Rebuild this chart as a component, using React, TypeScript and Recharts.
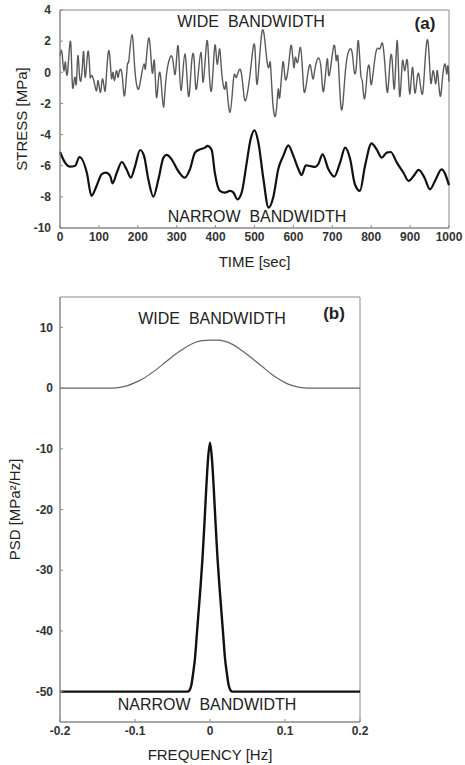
import { LineChart, Line, XAxis, YAxis, ReferenceArea } from 'recharts';

// panel (a): stress time histories
const timeWide = [
  0, 5, 10, 14, 19, 27, 32, 38, 42, 46, 51, 57, 61, 65, 72, 77, 80, 87, 94, 98,
  104, 109, 115, 119, 126, 132, 136, 140, 145, 149, 153, 160, 166, 173, 177, 185, 192, 200, 207, 216,
  220, 228, 235, 239, 243, 248, 254, 260, 266, 272, 283, 291, 297, 304, 311, 321, 330, 338, 345, 351,
  362, 368, 377, 383, 390, 398, 404, 410, 416, 424, 428, 437, 446, 452, 458, 465, 471, 477, 486, 493,
  501, 507, 519, 530, 537, 541, 547, 555, 561, 565, 573, 579, 588, 595, 601, 605, 611, 618, 624, 629,
  637, 644, 650, 656, 665, 672, 678, 687, 692, 704, 710, 715, 723, 732, 740, 750, 756, 762, 767, 773,
  777, 783, 790, 796, 801, 812, 822, 829, 836, 842, 848, 854, 860, 867, 873, 880, 886, 893, 899, 906,
  912, 919, 925, 932, 938, 946, 953, 959, 966, 970, 977, 983, 990, 994, 997, 1000,
];
const stressWide = [
  1.07, 1.28, 0.1, 0.64, -0.11, 1.99, -0.86, -0.32, -0.75, 1.07, -0.43, 0.21, 1.28, -0.32, 1.35, -0.11, -0.22, -0.54, -1.18, -0.54,
  -1.29, -0.43, -1.18, -0.32, 1.39, -0.32, 0.0, -0.54, 0.1, -0.32, 0.1, -0.22, -1.5, 0.43, 0.75, 2.42, 0.32, -1.07, -0.54, 0.53,
  0.32, 2.2, 0.53, 0.1, 0.64, -1.6, -0.22, -0.64, -2.25, -0.54, 0.96, 0.64, 0.0, 1.65, -1.18, 1.18, -1.5, 0.53, 0.75, -1.07,
  1.28, -0.64, 1.93, 0.32, -1.07, 1.71, 0.53, 1.5, -0.11, -1.07, -0.75, -2.57, -0.43, -0.32, 0.0, 0.1, -1.07, -1.82, -0.64, 0.86,
  1.6, -0.75, 2.57, 1.18, 0.32, 0.53, -1.93, -2.68, -1.07, -1.6, 0.64, -0.43, 0.53, 1.71, 0.32, 0.96, 0.64, 1.6, -0.11, -1.29,
  -0.11, 0.43, -0.43, 0.32, 0.92, 0.0, -1.18, 0.86, -0.22, 1.71, 0.75, 0.86, -2.36, -0.43, 1.18, 1.39, 0.1, 0.43, 2.03, -0.11,
  -0.54, -1.71, 0.0, 0.21, -0.75, 1.28, 1.5, 1.86, 0.21, -1.29, 0.53, 0.75, -0.97, 2.03, -1.5, 0.64, 0.1, 0.75, -1.39, 0.32,
  -1.29, -0.22, -0.54, -1.39, 0.53, 1.99, -0.64, 0.1, -0.75, 0.1, -1.5, -0.43, 0.53, -0.11, 0.43, -0.6,
];

const timeNarrow = [
  0, 13, 26, 39, 50, 69, 81, 94, 107, 118, 129, 135, 146, 159, 171, 182, 193, 206, 216, 227,
  240, 253, 266, 274, 287, 304, 321, 334, 347, 360, 373, 379, 390, 398, 411, 424, 437, 446, 456, 467,
  480, 490, 500, 510, 523, 536, 549, 561, 574, 587, 600, 613, 621, 632, 643, 656, 664, 675, 690, 705,
  720, 733, 746, 758, 771, 784, 801, 814, 827, 840, 850, 866, 883, 896, 909, 922, 937, 951, 964, 981,
  1000,
];
const stressNarrow = [
  -5.12, -5.8, -6.06, -6.0, -5.44, -6.45, -7.94, -7.3, -6.55, -6.45, -6.66, -7.13, -6.45, -5.76, -6.23, -6.77, -6.02, -4.99, -5.37, -6.87,
  -7.99, -6.87, -5.48, -5.31, -5.59, -6.34, -6.77, -6.23, -5.16, -4.95, -4.84, -4.73, -4.99, -6.45, -7.62, -7.73, -7.62, -7.73, -8.16, -7.73,
  -5.8, -4.3, -3.73, -4.52, -6.87, -8.69, -7.94, -6.23, -5.37, -4.69, -5.37, -6.23, -6.6, -5.97, -6.02, -6.08, -5.9, -5.27, -6.23, -6.7,
  -5.8, -4.84, -5.59, -7.19, -7.62, -6.02, -4.56, -4.95, -5.48, -5.16, -5.12, -5.8, -6.45, -6.98, -6.66, -6.27, -6.77, -7.52, -6.98, -6.23,
  -7.25,
];

// panel (b): power spectral densities
const freqWide = [
  -0.2, -0.15, -0.13, -0.12, -0.11, -0.1, -0.09, -0.08, -0.07, -0.06, -0.05, -0.04, -0.03, -0.02, -0.01, 0,
  0.01, 0.02, 0.03, 0.04, 0.05, 0.06, 0.07, 0.08, 0.09, 0.1, 0.11, 0.12, 0.13, 0.15, 0.2,
];
const psdWide = [
  0, 0, 0, 0.1, 0.4, 0.9, 1.5, 2.3, 3.2, 4.2, 5.2, 6.1, 6.9, 7.5, 7.8, 7.9,
  7.9, 7.7, 7.2, 6.4, 5.5, 4.5, 3.5, 2.5, 1.6, 0.9, 0.4, 0.1, 0, 0, 0,
];

const freqNarrow = [
  -0.2, -0.03, -0.0275, -0.025, -0.0225, -0.02, -0.0175, -0.015, -0.0125, -0.01, -0.0075, -0.005, -0.0025, 0,
  0.0025, 0.005, 0.0075, 0.01, 0.0125, 0.015, 0.0175, 0.02, 0.0225, 0.025, 0.0275, 0.03, 0.2,
];
const psdNarrow = [
  -50, -50, -49.8, -49, -47, -44.5, -40.5, -36.5, -32.5, -28, -22.5, -16.5, -11.5, -9,
  -11.5, -16.5, -22.5, -28, -32.5, -36.5, -40.5, -44.5, -47, -49, -49.8, -50, -50,
];

const timeTicks = [0, 100, 200, 300, 400, 500, 600, 700, 800, 900, 1000];
const stressTicks = [-10, -8, -6, -4, -2, 0, 2, 4];
const freqTicks = [-0.2, -0.1, 0, 0.1, 0.2];
const psdTicks = [-50, -40, -30, -20, -10, 0, 10];

const wideData = timeWide.map((t, i) => ({ t, v: stressWide[i] }));
const narrowData = timeNarrow.map((t, i) => ({ t, v: stressNarrow[i] }));
const psdWideData = freqWide.map((f, i) => ({ f, v: psdWide[i] }));
const psdNarrowData = freqNarrow.map((f, i) => ({ f, v: psdNarrow[i] }));

const FONT = 'Arial, "Liberation Sans", Helvetica, sans-serif';
const tickStyle = { fontSize: 12, fontWeight: 700, fill: '#333', fontFamily: FONT };
const titleStyle = { fontSize: 15, fontWeight: 400, fill: '#222', fontFamily: FONT };
const FRAME = '#8a8a8a';

export default function App() {
  return (
    <div style={{ position: 'absolute', left: 0, top: 0, width: 465, height: 765, background: '#fff' }}>
      {/* (a) stress */}
      <div style={{ position: 'absolute', left: 0, top: 0 }}>
        <LineChart width={465} height={290} margin={{ top: 10, right: 16, bottom: 22, left: 10 }}>
          <XAxis
            dataKey="t"
            type="number"
            domain={[0, 1000]}
            ticks={timeTicks}
            stroke={FRAME}
            tickSize={-3}
            tickMargin={7}
            tick={tickStyle}
            height={40}
            allowDuplicatedCategory={false}
            label={{ value: 'TIME [sec]', position: 'insideBottom', offset: 1, style: titleStyle }}
          />
          <YAxis
            type="number"
            domain={[-10, 4]}
            ticks={stressTicks}
            stroke={FRAME}
            tickSize={-3}
            tickMargin={12}
            tick={tickStyle}
            width={50}
            label={{ value: 'STRESS [MPa]', angle: -90, position: 'insideLeft', offset: 12, style: { ...titleStyle, textAnchor: 'middle' } }}
          />
          <ReferenceArea x1={0} x2={1000} y1={-10} y2={4} fill="none" stroke={FRAME} strokeWidth={1} />
          <Line data={wideData} dataKey="v" type="natural" stroke="#5a5a5a" strokeWidth={1.4} dot={false} isAnimationActive={false} />
          <Line data={narrowData} dataKey="v" type="monotone" stroke="#111" strokeWidth={2.2} dot={false} isAnimationActive={false} />
        </LineChart>
      </div>

      {/* (b) PSD */}
      <div style={{ position: 'absolute', left: 0, top: 287 }}>
        <LineChart width={465} height={478} margin={{ top: 10, right: 105, bottom: 5, left: 5 }}>
          <XAxis
            dataKey="f"
            type="number"
            domain={[-0.2, 0.2]}
            ticks={freqTicks}
            stroke={FRAME}
            tickSize={-3}
            tickMargin={7}
            tick={tickStyle}
            height={38}
            allowDuplicatedCategory={false}
            label={{ value: 'FREQUENCY [Hz]', position: 'insideBottom', offset: 0, style: titleStyle }}
          />
          <YAxis
            type="number"
            domain={[-55, 15]}
            ticks={psdTicks}
            stroke={FRAME}
            tickSize={-3}
            tickMargin={10}
            tick={tickStyle}
            width={55}
            label={{ value: 'PSD [MPa²/Hz]', angle: -90, position: 'insideLeft', offset: 10, style: { ...titleStyle, textAnchor: 'middle' } }}
          />
          <ReferenceArea x1={-0.2} x2={0.2} y1={-55} y2={15} fill="none" stroke={FRAME} strokeWidth={1} />
          <Line data={psdWideData} dataKey="v" type="monotone" stroke="#666" strokeWidth={1.2} dot={false} isAnimationActive={false} />
          <Line data={psdNarrowData} dataKey="v" type="monotone" stroke="#111" strokeWidth={2.4} dot={false} isAnimationActive={false} />
        </LineChart>
      </div>

      {/* annotations */}
      <svg width={465} height={765} style={{ position: 'absolute', left: 0, top: 0, pointerEvents: 'none' }}>
        <g fontFamily={FONT} fill="#222" fontSize={16} textAnchor="middle" dominantBaseline="middle">
          <text x={251} y={23} xmlSpace="preserve">WIDE  BANDWIDTH</text>
          <text x={257} y={218} xmlSpace="preserve">NARROW  BANDWIDTH</text>
          <text x={212} y={320} xmlSpace="preserve">WIDE  BANDWIDTH</text>
          <text x={207} y={706} xmlSpace="preserve">NARROW  BANDWIDTH</text>
          <text x={425} y={25} fontWeight={700} fontSize={17}>(a)</text>
          <text x={334} y={315} fontWeight={700} fontSize={17}>(b)</text>
        </g>
      </svg>
    </div>
  );
}
